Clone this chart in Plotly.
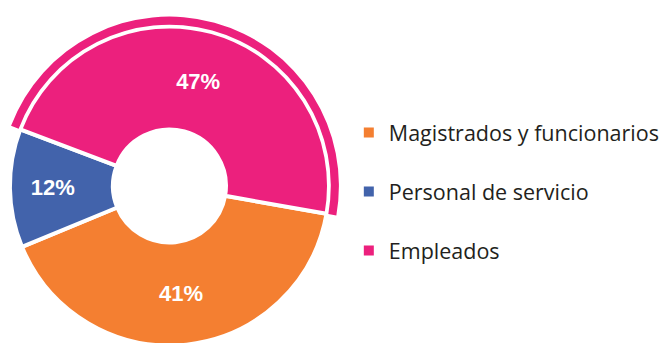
import plotly.graph_objects as go

# Distribución del personal
categorias = ["Magistrados y funcionarios", "Personal de servicio", "Empleados"]
porcentajes = [41, 12, 47]
colores = ["#F47F31", "#4263AB", "#EC207D"]
destacado = "Empleados"

W, H = 665, 372
CX, CY = 171, 186          # centro del anillo (px)
R_MAIN, R_RING = 161, 171  # radios exteriores (px)
HOLE_MAIN = 0.354
HOLE_RING = 0.952
ROT = 100


def dominio(r):
    return dict(
        x=[(CX - r) / W, (CX + r) / W],
        y=[1 - (CY + r) / H, 1 - (CY - r) / H],
    )


fig = go.Figure()

# Anillo principal
fig.add_trace(go.Pie(
    labels=categorias,
    values=porcentajes,
    sort=False,
    direction="clockwise",
    rotation=ROT,
    hole=HOLE_MAIN,
    domain=dominio(R_MAIN),
    marker=dict(colors=colores, line=dict(color="white", width=4)),
    texttemplate="%{value}%",
    textposition="inside",
    insidetextorientation="horizontal",
    textfont=dict(family="Liberation Sans, Arial", size=22, color="white", weight=700),
    showlegend=False,
    hoverinfo="label+percent",
))

# Arco exterior que resalta la categoría destacada
fig.add_trace(go.Pie(
    labels=categorias,
    values=porcentajes,
    sort=False,
    direction="clockwise",
    rotation=ROT,
    hole=HOLE_RING,
    domain=dominio(R_RING),
    marker=dict(
        colors=[c if cat == destacado else "rgba(0,0,0,0)" for cat, c in zip(categorias, colores)],
        line=dict(width=0),
    ),
    textinfo="none",
    hoverinfo="skip",
    showlegend=False,
))

# Leyenda
for cat, c in zip(categorias, colores):
    fig.add_trace(go.Scatter(
        x=[None], y=[None], mode="markers", name=cat, legendgroup=cat,
        marker=dict(symbol="square", size=10, color=c),
    ))

fig.update_layout(
    width=W, height=H,
    margin=dict(l=0, r=0, t=0, b=0),
    paper_bgcolor="white", plot_bgcolor="white",
    xaxis=dict(visible=False), yaxis=dict(visible=False),
    legend=dict(
        x=352 / W, xanchor="left",
        y=1 - 112 / H, yanchor="top",
        font=dict(family="Open Sans", size=21.5, color="#231F20"),
        tracegroupgap=28,
        bgcolor="rgba(0,0,0,0)",
    ),
)

fig.write_html("out.html")
